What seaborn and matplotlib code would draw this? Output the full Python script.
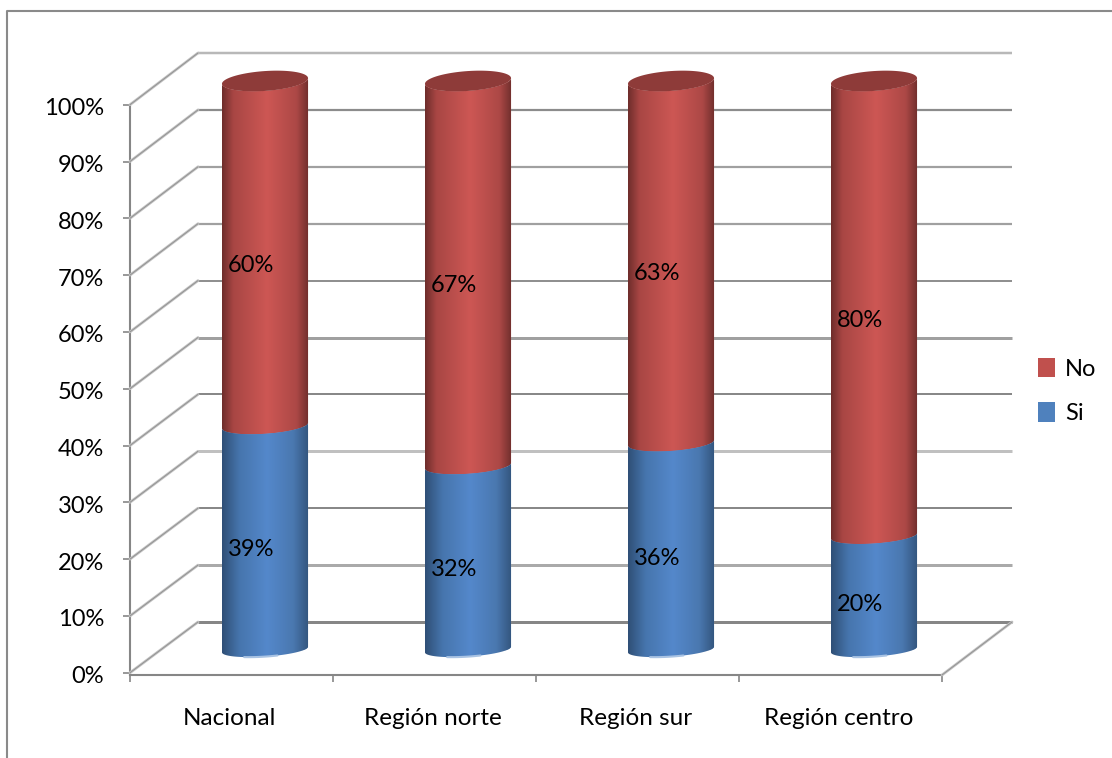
"""
Cylinder-style stacked percentage chart (Nacional and regions).
Three overlaid axes fake the depth: back wall, bars at mid depth, front axis.
"""
import numpy as np
import matplotlib
matplotlib.use('Agg')
import matplotlib.pyplot as plt
from matplotlib.colors import LinearSegmentedColormap
from matplotlib.lines import Line2D
from matplotlib.patches import ConnectionPatch, Patch, Polygon
from matplotlib.ticker import FixedLocator
from matplotlib.transforms import ScaledTranslation
import seaborn as sns

sns.set_style("white")
plt.rcParams['font.family'] = ['Lato', 'DejaVu Sans']
plt.rcParams['font.size'] = 17
plt.rcParams['text.color'] = 'black'
plt.rcParams['xtick.labelcolor'] = 'black'
plt.rcParams['ytick.labelcolor'] = 'black'

# Data
categories = ['Nacional', 'Región norte', 'Región sur', 'Región centro']
si_values = np.array([39, 32, 36, 20])
no_values = np.array([60, 67, 63, 80])
percent_ticks = list(range(0, 101, 10))

# Colours
RED = '#c0504d'
BLUE = '#4f81bd'
CAP_RED = '#8e3b39'
AXIS_GREY = '#868686'
RED_CMAP = LinearSegmentedColormap.from_list(
    'red_cyl', [(0, '#6e2d2b'), (0.13, '#a84644'), (0.52, '#cd5754'),
                (0.86, '#ac4846'), (1, '#6f2e2c')])
BLUE_CMAP = LinearSegmentedColormap.from_list(
    'blue_cyl', [(0, '#2f4f76'), (0.2, '#4675ad'), (0.52, '#5488cb'),
                 (0.82, '#4a78b0'), (1, '#33557d')])
WALL_COLORS = ['#868686', '#aaaaaa', '#888888', '#c0c0c0', '#888888',
               '#a0a0a0', '#909090', '#a0a0a0', '#a0a0a0', '#8c8c8c', '#b8b8b8']
WALL_WIDTHS = [3.0, 3.0, 2.0, 3.0, 2.0, 3.0, 2.0, 2.2, 2.2, 2.2, 2.5]

W, H = 1112, 758
fig = plt.figure(figsize=(W / 100, H / 100), dpi=100)


def px_axes(left, top, right, bottom):
    """Axes placed by pixel box of the image."""
    ax = fig.add_axes([left / W, 1 - bottom / H, (right - left) / W, (bottom - top) / H])
    ax.patch.set_alpha(0)
    return ax


# Outer chart border (only top and left show in the crop)
fig.add_artist(Line2D([7 / W, 7 / W, 1], [0, 1 - 11 / H, 1 - 11 / H],
                      color='#8a8a8a', lw=1.5))

# Back wall
ax_wall = px_axes(198, 53, 1012, 622)
ax_wall.set_xlim(-0.5, 3.5)
ax_wall.set_ylim(0, 100)
ax_wall.axis('off')
for tick, color, width in zip(percent_ticks, WALL_COLORS, WALL_WIDTHS):
    ax_wall.plot([-0.5, 3.5], [tick, tick], color=color, lw=width * 0.72,
                 solid_capstyle='butt', clip_on=False)

# Front axis with the labels
ax_front = px_axes(130, 104.7, 942, 675)
ax_front.set_xlim(-0.5, 3.5)
ax_front.set_ylim(-0.4, 100)
ax_front.set_xticks(range(len(categories)))
ax_front.set_xticklabels(categories, fontsize=17.5)
ax_front.xaxis.set_minor_locator(FixedLocator([-0.5, 0.5, 1.5, 2.5, 3.5]))
ax_front.set_yticks(percent_ticks)
ax_front.set_yticklabels([f'{t}%' for t in percent_ticks])
ax_front.tick_params(axis='x', which='major', length=0, pad=24)
ax_front.tick_params(axis='x', which='minor', length=5, width=1.2, color=AXIS_GREY, bottom=True)
ax_front.tick_params(axis='y', length=5, width=1.2, color=AXIS_GREY, left=True, pad=13.5)
# the source labels sit a touch below their ticks, category labels a touch left
for label in ax_front.get_yticklabels():
    label.set_transform(label.get_transform() + ScaledTranslation(0, -2 / 100, fig.dpi_scale_trans))
for label in ax_front.get_xticklabels():
    label.set_transform(label.get_transform() + ScaledTranslation(-2 / 100, 0, fig.dpi_scale_trans))
for side in ['top', 'right']:
    ax_front.spines[side].set_visible(False)
for side in ['left', 'bottom']:
    ax_front.spines[side].set_color(AXIS_GREY)
    ax_front.spines[side].set_linewidth(1.5)

# Side wall and floor edges, front plane to back plane
for tick in percent_ticks:
    for color, width in [('#c4c4c4', 2.0), ('#929292', 0.7)]:
        fig.add_artist(ConnectionPatch(
            xyA=(-0.5, tick), coordsA=ax_front.transData,
            xyB=(-0.5, tick), coordsB=ax_wall.transData,
            color=color, lw=width))
for color, width in [('#c4c4c4', 2.0), ('#929292', 0.7)]:
    fig.add_artist(ConnectionPatch(
        xyA=(3.5, -0.4), coordsA=ax_front.transData,
        xyB=(3.5, 0), coordsB=ax_wall.transData,
        color=color, lw=width))

# Bars at mid depth; the chart is 100% stacked so shares are normalised.
# The y range is padded so the cylinder ends are not cut by the axes box.
ax_bars = px_axes(163.5, 81 - 4 * 5.685, 975.5, 649.5 + 4 * 5.685)
totals = si_values + no_values
si_share = si_values / totals * 100
no_top = np.full(len(categories), 100.0)

sns.barplot(x=categories, y=no_top, color=RED, saturation=1, width=0.424, ax=ax_bars)
sns.barplot(x=categories, y=si_share, color=BLUE, saturation=1, width=0.424, ax=ax_bars)


def half_ring(cx, half_w, level):
    """Front half of the tilted ellipse at a height, left to right."""
    t = np.linspace(np.pi, 2 * np.pi, 60)
    b = 1.25 + 0.5 * level / 100  # perspective: ellipses open up with height
    return np.column_stack([cx + half_w * np.cos(t),
                            level + b * np.sin(t) + 0.5 * np.cos(t)])


def cylinder_part(patch_bar, low, high, cmap):
    x0, w = patch_bar.get_x(), patch_bar.get_width()
    cx, half_w = x0 + w / 2, w / 2
    outline = np.vstack([half_ring(cx, half_w, low), half_ring(cx, half_w, high)[::-1]])
    poly = Polygon(outline, closed=True, transform=ax_bars.transData,
                   facecolor='none', edgecolor='none')
    ax_bars.add_patch(poly)
    patch_bar.set_clip_path(poly)
    img = ax_bars.imshow(np.linspace(0, 1, 256).reshape(1, -1), cmap=cmap, aspect='auto',
                         extent=(x0, x0 + w, low - 4, high + 4), vmin=0, vmax=1,
                         interpolation='bilinear', zorder=3)
    img.set_clip_path(poly)


n_cat = len(categories)
red_bars = ax_bars.patches[:n_cat]
blue_bars = ax_bars.patches[n_cat:2 * n_cat]
for i in range(n_cat):
    cylinder_part(red_bars[i], si_share[i], 100, RED_CMAP)
    cylinder_part(blue_bars[i], 0, si_share[i], BLUE_CMAP)

    # Top cap and the lighter rim at the base
    cx = blue_bars[i].get_x() + blue_bars[i].get_width() / 2
    half_w = blue_bars[i].get_width() / 2
    front = half_ring(cx, half_w, 100)
    back = front.copy()
    back[:, 1] = 2 * (100 + 0.5 * (front[:, 0] - cx) / half_w) - front[:, 1]
    ax_bars.add_patch(Polygon(np.vstack([front, back[::-1]]), closed=True,
                              facecolor=CAP_RED, edgecolor='none', zorder=4))
    rim = half_ring(cx, half_w, 0)[20:36]
    ax_bars.plot(rim[:, 0], rim[:, 1], color='#a9c3e3', lw=1.5, zorder=5)

    # Data labels sit left of the bar centre and slightly low, as in the source
    ax_bars.annotate(f'{si_values[i]}%', (i, si_share[i] / 2), xytext=(-14, -12),
                     textcoords='offset pixels', ha='center', va='center', zorder=6)
    ax_bars.annotate(f'{no_values[i]}%', (i, (si_share[i] + 100) / 2), xytext=(-14, -12),
                     textcoords='offset pixels', ha='center', va='center', zorder=6)

ax_bars.set_xlim(-0.5, 3.5)
ax_bars.set_ylim(-4, 104)
ax_bars.axis('off')

# Legend
handles = [Patch(facecolor=RED, edgecolor='none', label='No'),
           Patch(facecolor=BLUE, edgecolor='none', label='Si')]
fig.legend(handles=handles, loc='center left', bbox_to_anchor=(1038 / W, 1 - 391 / H),
           frameon=False, handlelength=0.72, handleheight=0.9, handletextpad=0.42,
           labelspacing=0.95, borderpad=0, borderaxespad=0)

fig.savefig('out.png', dpi=100)
